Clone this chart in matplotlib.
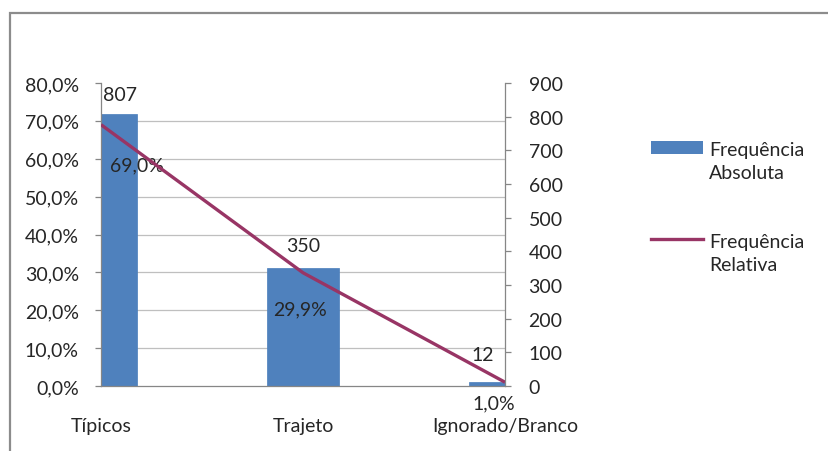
import matplotlib.pyplot as plt
from matplotlib.patches import Rectangle
from matplotlib.lines import Line2D

plt.rcParams['font.family'] = ['Lato', 'DejaVu Sans']

# ------------------ dados ------------------
categorias = ['Típicos', 'Trajeto', 'Ignorado/Branco']
freq_absoluta = [807, 350, 12]
freq_relativa = [69.0, 29.9, 1.0]
rotulos_rel = ['69,0%', '29,9%', '1,0%']
legenda = ['Frequência\nAbsoluta', 'Frequência\nRelativa']

cor_barra = '#4F81BD'
cor_linha = '#983565'
cor_texto = '#262626'
cor_grade = '#BFBFBF'
cor_eixo = '#868686'
fs = 14

W, H = 829, 452
fig = plt.figure(figsize=(W / 100, H / 100), dpi=100)

# moldura cinza do gráfico
fig.patches.append(Rectangle((10 / W, -0.1), 1.2, 1.1 - 14 / H, transform=fig.transFigure,
                             fill=False, edgecolor='#8C8C8C', linewidth=1.6))

ax = fig.add_axes([101 / W, 1 - 387 / H, (505 - 101) / W, (387 - 84) / H])
ax2 = ax.twinx()

x = list(range(len(categorias)))

# barras no eixo secundário (0-900)
ax2.bar(x, freq_absoluta, width=0.36, color=cor_barra, edgecolor='#4A7EBB', linewidth=0.5, zorder=2)
ax2.set_ylim(0, 900)
ax2.set_yticks(range(0, 901, 100))
# linhas de grade alinhadas com o eixo principal, atrás das barras
ax2.set_yticks([900 * k / 8 for k in range(9)], minor=True)
ax2.yaxis.grid(True, which='minor', color=cor_grade, linewidth=0.9, zorder=0)
ax2.tick_params(axis='y', which='minor', length=0)
ax2.set_axisbelow(True)

# linha no eixo principal (0-80%)
ax.plot(x, freq_relativa, color=cor_linha, linewidth=2.4, solid_capstyle='butt', zorder=5)
ax.set_ylim(0, 80)
ax.set_yticks(range(0, 81, 10))
ax.set_yticklabels([f'{v:.1f}%'.replace('.', ',') for v in range(0, 81, 10)])
ax.set_xlim(0, 2)
ax.set_xticks(x)
ax.set_xticklabels(categorias)

ax.set_zorder(ax2.get_zorder() + 1)
ax.patch.set_visible(False)

for a in (ax, ax2):
    a.spines['top'].set_visible(False)
    for s in ('left', 'right', 'bottom'):
        a.spines[s].set_color(cor_eixo)
        a.spines[s].set_linewidth(0.9)
    a.tick_params(which='major', colors=cor_eixo, labelcolor=cor_texto, labelsize=fs, length=4, width=0.9)
ax.spines['right'].set_visible(False)
ax2.spines['left'].set_visible(False)
ax2.spines['bottom'].set_visible(False)
ax.tick_params(axis='y', pad=12)
ax2.tick_params(axis='y', which='major', pad=13)
ax.tick_params(axis='x', pad=22, length=0)

# rótulos de dados
desloc_abs = [(14, 14), (0, 16), (-16, 20)]
for xi, v, (dx, dy) in zip(x, freq_absoluta, desloc_abs):
    ax2.annotate(str(v), (xi, v), xytext=(dx, dy), textcoords='offset points',
                 ha='center', va='center', fontsize=fs, color=cor_texto)

desloc_rel = [(26, -29), (-2, -26), (-8, -15)]
for xi, v, txt, (dx, dy) in zip(x, freq_relativa, rotulos_rel, desloc_rel):
    ax.annotate(txt, (xi, v), xytext=(dx, dy), textcoords='offset points',
                ha='center', va='center', fontsize=fs, color=cor_texto)

# legenda desenhada à mão
fig.patches.append(Rectangle((651 / W, 1 - 155 / H), 52 / W, 13 / H, transform=fig.transFigure,
                             facecolor=cor_barra, edgecolor='none'))
fig.lines.append(Line2D([651 / W, 703 / W], [1 - 240 / H, 1 - 240 / H], transform=fig.transFigure,
                        color=cor_linha, linewidth=2.4))
for txt, yc in zip(legenda, [162, 254]):
    fig.text(709 / W, 1 - yc / H, txt, ha='left', va='center', fontsize=fs,
             color=cor_texto, linespacing=1.45)

fig.savefig('out.png', dpi=100)
